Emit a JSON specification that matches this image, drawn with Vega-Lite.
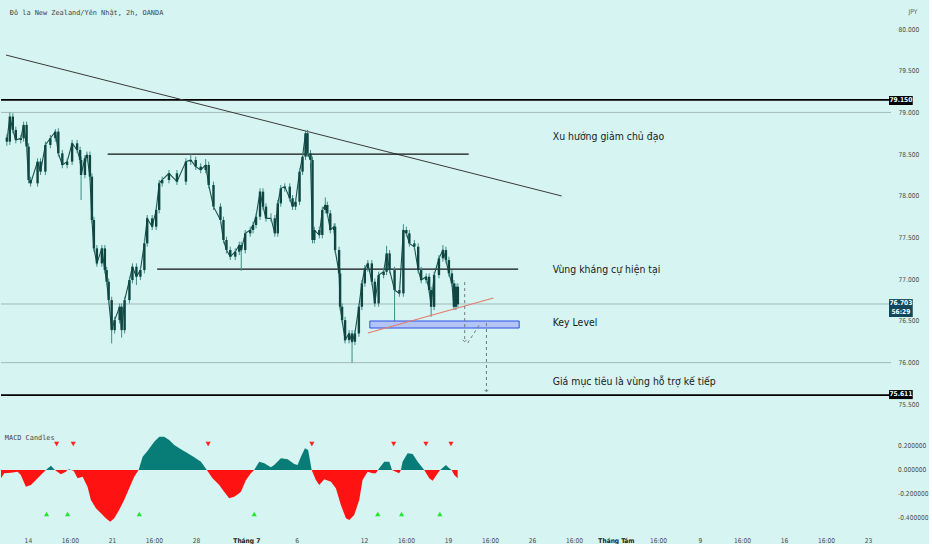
{
  "$schema": "https://vega.github.io/schema/vega-lite/v6.json",
  "background": "#d5f4f2",
  "padding": 0,
  "spacing": 2,
  "config": {
    "view": {"stroke": null},
    "axis": {
      "labelFont": "DejaVu Sans Condensed",
      "labelFontSize": 6.6,
      "labelColor": "#4a4a4a",
      "domain": false,
      "ticks": false,
      "grid": false,
      "labelOverlap": false,
      "labelBound": false
    }
  },
  "datasets": {
    "candles": [
      {"t": -1.55, "o": 78.70, "h": 78.74, "l": 78.60, "c": 78.65},
      {"t": -1.37, "o": 78.65, "h": 79.00, "l": 78.61, "c": 78.95},
      {"t": -1.19, "o": 78.95, "h": 78.99, "l": 78.75, "c": 78.79},
      {"t": -1.01, "o": 78.79, "h": 78.83, "l": 78.63, "c": 78.67},
      {"t": -0.71, "o": 78.67, "h": 78.73, "l": 78.63, "c": 78.69},
      {"t": -0.54, "o": 78.69, "h": 78.89, "l": 78.65, "c": 78.85},
      {"t": -0.36, "o": 78.85, "h": 78.89, "l": 78.55, "c": 78.59},
      {"t": -0.24, "o": 78.59, "h": 78.63, "l": 78.15, "c": 78.19},
      {"t": -0.12, "o": 78.19, "h": 78.23, "l": 78.11, "c": 78.15},
      {"t": 0.30, "o": 78.15, "h": 78.45, "l": 78.11, "c": 78.41},
      {"t": 0.48, "o": 78.41, "h": 78.45, "l": 78.25, "c": 78.29},
      {"t": 0.77, "o": 78.29, "h": 78.65, "l": 78.25, "c": 78.61},
      {"t": 1.07, "o": 78.61, "h": 78.73, "l": 78.57, "c": 78.69},
      {"t": 1.37, "o": 78.69, "h": 78.80, "l": 78.65, "c": 78.77},
      {"t": 1.55, "o": 78.77, "h": 78.81, "l": 78.47, "c": 78.51},
      {"t": 1.79, "o": 78.51, "h": 78.55, "l": 78.33, "c": 78.37},
      {"t": 2.08, "o": 78.37, "h": 78.45, "l": 78.33, "c": 78.41},
      {"t": 2.38, "o": 78.41, "h": 78.67, "l": 78.37, "c": 78.63},
      {"t": 2.68, "o": 78.63, "h": 78.67, "l": 78.51, "c": 78.55},
      {"t": 2.86, "o": 78.55, "h": 78.59, "l": 78.39, "c": 78.43},
      {"t": 2.92, "o": 78.43, "h": 78.47, "l": 77.95, "c": 78.25},
      {"t": 3.15, "o": 78.25, "h": 78.49, "l": 78.21, "c": 78.45},
      {"t": 3.27, "o": 78.45, "h": 78.53, "l": 78.41, "c": 78.49},
      {"t": 3.45, "o": 78.49, "h": 78.53, "l": 78.19, "c": 78.23},
      {"t": 3.57, "o": 78.23, "h": 78.27, "l": 77.67, "c": 77.71},
      {"t": 3.69, "o": 77.71, "h": 77.75, "l": 77.33, "c": 77.37},
      {"t": 3.87, "o": 77.37, "h": 77.41, "l": 77.15, "c": 77.19},
      {"t": 4.17, "o": 77.19, "h": 77.41, "l": 77.15, "c": 77.37},
      {"t": 4.35, "o": 77.37, "h": 77.41, "l": 77.07, "c": 77.11},
      {"t": 4.46, "o": 77.11, "h": 77.15, "l": 76.93, "c": 76.97},
      {"t": 4.58, "o": 76.97, "h": 77.01, "l": 76.71, "c": 76.75},
      {"t": 4.76, "o": 76.75, "h": 76.79, "l": 76.23, "c": 76.39},
      {"t": 4.94, "o": 76.39, "h": 76.55, "l": 76.35, "c": 76.51},
      {"t": 5.24, "o": 76.51, "h": 76.71, "l": 76.47, "c": 76.67},
      {"t": 5.36, "o": 76.67, "h": 76.71, "l": 76.30, "c": 76.39},
      {"t": 5.54, "o": 76.39, "h": 76.79, "l": 76.35, "c": 76.75},
      {"t": 5.83, "o": 76.75, "h": 77.03, "l": 76.71, "c": 76.99},
      {"t": 6.01, "o": 76.99, "h": 77.19, "l": 76.95, "c": 77.15},
      {"t": 6.25, "o": 77.15, "h": 77.19, "l": 76.93, "c": 77.03},
      {"t": 6.49, "o": 77.03, "h": 77.15, "l": 76.99, "c": 77.11},
      {"t": 6.73, "o": 77.11, "h": 77.47, "l": 77.07, "c": 77.43},
      {"t": 6.90, "o": 77.43, "h": 77.77, "l": 77.39, "c": 77.73},
      {"t": 7.20, "o": 77.73, "h": 77.77, "l": 77.59, "c": 77.63},
      {"t": 7.44, "o": 77.63, "h": 77.87, "l": 77.59, "c": 77.83},
      {"t": 7.62, "o": 77.83, "h": 78.19, "l": 77.79, "c": 78.15},
      {"t": 7.80, "o": 78.15, "h": 78.23, "l": 78.11, "c": 78.19},
      {"t": 8.21, "o": 78.19, "h": 78.31, "l": 78.15, "c": 78.27},
      {"t": 8.69, "o": 78.27, "h": 78.31, "l": 78.13, "c": 78.17},
      {"t": 9.23, "o": 78.17, "h": 78.45, "l": 78.13, "c": 78.41},
      {"t": 9.52, "o": 78.41, "h": 78.50, "l": 78.37, "c": 78.43},
      {"t": 9.82, "o": 78.43, "h": 78.47, "l": 78.31, "c": 78.35},
      {"t": 10.12, "o": 78.35, "h": 78.39, "l": 78.27, "c": 78.31},
      {"t": 10.42, "o": 78.31, "h": 78.44, "l": 78.27, "c": 78.37},
      {"t": 10.60, "o": 78.37, "h": 78.41, "l": 78.09, "c": 78.13},
      {"t": 10.89, "o": 78.13, "h": 78.17, "l": 77.83, "c": 77.87},
      {"t": 11.31, "o": 77.87, "h": 77.91, "l": 77.67, "c": 77.71},
      {"t": 11.49, "o": 77.71, "h": 77.75, "l": 77.43, "c": 77.47},
      {"t": 11.67, "o": 77.47, "h": 77.51, "l": 77.31, "c": 77.35},
      {"t": 11.90, "o": 77.35, "h": 77.39, "l": 77.23, "c": 77.27},
      {"t": 12.20, "o": 77.27, "h": 77.37, "l": 77.23, "c": 77.33},
      {"t": 12.44, "o": 77.33, "h": 77.45, "l": 77.29, "c": 77.41},
      {"t": 12.56, "o": 77.41, "h": 77.45, "l": 77.10, "c": 77.35},
      {"t": 12.80, "o": 77.35, "h": 77.59, "l": 77.31, "c": 77.55},
      {"t": 13.10, "o": 77.55, "h": 77.63, "l": 77.51, "c": 77.59},
      {"t": 13.27, "o": 77.59, "h": 77.69, "l": 77.55, "c": 77.65},
      {"t": 13.45, "o": 77.65, "h": 77.79, "l": 77.61, "c": 77.75},
      {"t": 13.69, "o": 77.75, "h": 78.09, "l": 77.71, "c": 78.05},
      {"t": 13.87, "o": 78.05, "h": 78.09, "l": 77.83, "c": 77.87},
      {"t": 14.05, "o": 77.87, "h": 77.91, "l": 77.69, "c": 77.73},
      {"t": 14.35, "o": 77.73, "h": 77.79, "l": 77.69, "c": 77.73},
      {"t": 14.58, "o": 77.73, "h": 77.77, "l": 77.51, "c": 77.55},
      {"t": 14.76, "o": 77.55, "h": 77.95, "l": 77.51, "c": 77.91},
      {"t": 14.94, "o": 77.91, "h": 78.13, "l": 77.87, "c": 78.09},
      {"t": 15.18, "o": 78.09, "h": 78.15, "l": 78.05, "c": 78.11},
      {"t": 15.48, "o": 78.11, "h": 78.15, "l": 77.93, "c": 77.97},
      {"t": 15.65, "o": 77.97, "h": 78.01, "l": 77.83, "c": 77.87},
      {"t": 15.83, "o": 77.87, "h": 77.97, "l": 77.83, "c": 77.93},
      {"t": 16.07, "o": 77.93, "h": 78.33, "l": 77.89, "c": 78.29},
      {"t": 16.25, "o": 78.29, "h": 78.51, "l": 78.25, "c": 78.47},
      {"t": 16.43, "o": 78.47, "h": 78.78, "l": 78.43, "c": 78.75},
      {"t": 16.55, "o": 78.75, "h": 78.79, "l": 78.47, "c": 78.51},
      {"t": 16.73, "o": 78.51, "h": 78.55, "l": 78.39, "c": 78.43},
      {"t": 16.85, "o": 78.43, "h": 78.47, "l": 77.43, "c": 77.47},
      {"t": 16.96, "o": 77.47, "h": 77.63, "l": 77.43, "c": 77.59},
      {"t": 17.26, "o": 77.59, "h": 77.63, "l": 77.49, "c": 77.53},
      {"t": 17.44, "o": 77.53, "h": 77.87, "l": 77.49, "c": 77.83},
      {"t": 17.62, "o": 77.83, "h": 77.98, "l": 77.79, "c": 77.89},
      {"t": 17.74, "o": 77.89, "h": 77.93, "l": 77.75, "c": 77.79},
      {"t": 17.92, "o": 77.79, "h": 77.83, "l": 77.55, "c": 77.59},
      {"t": 18.15, "o": 77.59, "h": 77.67, "l": 77.55, "c": 77.63},
      {"t": 18.21, "o": 77.63, "h": 77.67, "l": 77.31, "c": 77.35},
      {"t": 18.45, "o": 77.35, "h": 77.39, "l": 77.03, "c": 77.07},
      {"t": 18.51, "o": 77.07, "h": 77.11, "l": 76.63, "c": 76.67},
      {"t": 18.63, "o": 76.67, "h": 76.71, "l": 76.47, "c": 76.51},
      {"t": 18.81, "o": 76.51, "h": 76.55, "l": 76.23, "c": 76.27},
      {"t": 19.05, "o": 76.27, "h": 76.39, "l": 76.23, "c": 76.35},
      {"t": 19.23, "o": 76.35, "h": 76.39, "l": 76.00, "c": 76.25},
      {"t": 19.40, "o": 76.25, "h": 76.39, "l": 76.21, "c": 76.35},
      {"t": 19.64, "o": 76.35, "h": 76.71, "l": 76.31, "c": 76.67},
      {"t": 19.82, "o": 76.67, "h": 76.99, "l": 76.63, "c": 76.95},
      {"t": 20.00, "o": 76.95, "h": 77.17, "l": 76.91, "c": 77.13},
      {"t": 20.18, "o": 77.13, "h": 77.23, "l": 77.09, "c": 77.19},
      {"t": 20.42, "o": 77.19, "h": 77.23, "l": 76.93, "c": 76.97},
      {"t": 20.60, "o": 76.97, "h": 77.01, "l": 76.67, "c": 76.71},
      {"t": 20.83, "o": 76.71, "h": 77.09, "l": 76.67, "c": 77.05},
      {"t": 21.13, "o": 77.05, "h": 77.13, "l": 77.01, "c": 77.09},
      {"t": 21.31, "o": 77.09, "h": 77.40, "l": 77.05, "c": 77.31},
      {"t": 21.49, "o": 77.31, "h": 77.35, "l": 77.07, "c": 77.11},
      {"t": 21.79, "o": 77.11, "h": 77.15, "l": 76.47, "c": 76.87},
      {"t": 22.08, "o": 76.87, "h": 76.91, "l": 76.79, "c": 76.83},
      {"t": 22.32, "o": 76.83, "h": 77.66, "l": 76.79, "c": 77.59},
      {"t": 22.50, "o": 77.59, "h": 77.63, "l": 77.51, "c": 77.55},
      {"t": 22.68, "o": 77.55, "h": 77.59, "l": 77.39, "c": 77.43},
      {"t": 22.98, "o": 77.43, "h": 77.47, "l": 77.35, "c": 77.39},
      {"t": 23.21, "o": 77.39, "h": 77.43, "l": 77.07, "c": 77.11},
      {"t": 23.39, "o": 77.11, "h": 77.15, "l": 76.95, "c": 76.99},
      {"t": 23.69, "o": 76.99, "h": 77.07, "l": 76.95, "c": 77.03},
      {"t": 23.87, "o": 77.03, "h": 77.07, "l": 76.83, "c": 76.87},
      {"t": 23.99, "o": 76.87, "h": 76.91, "l": 76.55, "c": 76.67},
      {"t": 24.17, "o": 76.67, "h": 77.09, "l": 76.63, "c": 77.05},
      {"t": 24.46, "o": 77.05, "h": 77.29, "l": 77.01, "c": 77.25},
      {"t": 24.70, "o": 77.25, "h": 77.41, "l": 77.21, "c": 77.35},
      {"t": 24.88, "o": 77.35, "h": 77.39, "l": 77.19, "c": 77.23},
      {"t": 25.06, "o": 77.23, "h": 77.27, "l": 77.03, "c": 77.07},
      {"t": 25.24, "o": 77.07, "h": 77.11, "l": 76.91, "c": 76.95},
      {"t": 25.36, "o": 76.95, "h": 76.99, "l": 76.63, "c": 76.67},
      {"t": 25.48, "o": 76.67, "h": 76.95, "l": 76.63, "c": 76.91},
      {"t": 25.60, "o": 76.91, "h": 76.95, "l": 76.66, "c": 76.70}
    ],
    "macd": [
      {"t": -1.6, "m": -0.069}, {"t": -1.41, "m": -0.028}, {"t": -1.01, "m": -0.022},
      {"t": -0.61, "m": -0.014}, {"t": -0.42, "m": -0.042}, {"t": -0.12, "m": -0.139},
      {"t": 0.18, "m": -0.125}, {"t": 0.48, "m": -0.083}, {"t": 0.77, "m": -0.042},
      {"t": 1.07, "m": 0}, {"t": 1.37, "m": 0.036}, {"t": 1.61, "m": 0},
      {"t": 1.96, "m": -0.036}, {"t": 2.26, "m": -0.014}, {"t": 2.35, "m": 0},
      {"t": 2.46, "m": 0.006}, {"t": 2.56, "m": 0}, {"t": 2.72, "m": -0.006},
      {"t": 2.96, "m": -0.069}, {"t": 3.26, "m": -0.056}, {"t": 3.55, "m": -0.139},
      {"t": 3.75, "m": -0.25}, {"t": 4.05, "m": -0.319}, {"t": 4.35, "m": -0.361},
      {"t": 4.64, "m": -0.403}, {"t": 4.90, "m": -0.431}, {"t": 5.14, "m": -0.403},
      {"t": 5.43, "m": -0.333}, {"t": 5.73, "m": -0.25}, {"t": 6.03, "m": -0.153},
      {"t": 6.33, "m": -0.056}, {"t": 6.59, "m": 0}, {"t": 6.83, "m": 0.111},
      {"t": 7.13, "m": 0.161}, {"t": 7.52, "m": 0.236}, {"t": 7.82, "m": 0.278},
      {"t": 8.11, "m": 0.278}, {"t": 8.41, "m": 0.25}, {"t": 8.71, "m": 0.208},
      {"t": 9.11, "m": 0.172}, {"t": 9.51, "m": 0.139}, {"t": 9.90, "m": 0.106},
      {"t": 10.30, "m": 0.069}, {"t": 10.65, "m": 0}, {"t": 10.99, "m": -0.069},
      {"t": 11.39, "m": -0.125}, {"t": 11.68, "m": -0.181}, {"t": 11.98, "m": -0.236},
      {"t": 12.28, "m": -0.222}, {"t": 12.58, "m": -0.194}, {"t": 12.68, "m": -0.181},
      {"t": 12.98, "m": -0.083}, {"t": 13.27, "m": -0.028}, {"t": 13.47, "m": 0},
      {"t": 13.77, "m": 0.069}, {"t": 14.07, "m": 0.056}, {"t": 14.46, "m": 0.022},
      {"t": 14.66, "m": 0.042}, {"t": 15.06, "m": 0.097}, {"t": 15.46, "m": 0.089},
      {"t": 15.85, "m": 0.05}, {"t": 16.05, "m": 0.042}, {"t": 16.25, "m": 0.111},
      {"t": 16.49, "m": 0.181}, {"t": 16.68, "m": 0.167}, {"t": 16.89, "m": 0},
      {"t": 17.14, "m": -0.083}, {"t": 17.34, "m": -0.125}, {"t": 17.64, "m": -0.078},
      {"t": 18.04, "m": -0.097}, {"t": 18.33, "m": -0.153}, {"t": 18.63, "m": -0.292},
      {"t": 18.93, "m": -0.403}, {"t": 19.13, "m": -0.417}, {"t": 19.42, "m": -0.375},
      {"t": 19.72, "m": -0.25}, {"t": 19.92, "m": -0.083}, {"t": 20.22, "m": -0.014},
      {"t": 20.52, "m": -0.028}, {"t": 20.71, "m": -0.028}, {"t": 20.83, "m": 0},
      {"t": 20.91, "m": 0.014}, {"t": 21.21, "m": 0.069}, {"t": 21.51, "m": 0.069},
      {"t": 21.67, "m": 0}, {"t": 21.90, "m": -0.014}, {"t": 22.10, "m": -0.028},
      {"t": 22.20, "m": 0}, {"t": 22.30, "m": 0.069}, {"t": 22.60, "m": 0.139},
      {"t": 22.90, "m": 0.133}, {"t": 23.20, "m": 0.069}, {"t": 23.59, "m": 0},
      {"t": 23.89, "m": -0.069}, {"t": 24.09, "m": -0.089}, {"t": 24.39, "m": -0.028},
      {"t": 24.54, "m": 0}, {"t": 24.88, "m": 0.042}, {"t": 25.08, "m": 0.014},
      {"t": 25.22, "m": 0}, {"t": 25.38, "m": -0.042}, {"t": 25.58, "m": -0.069}
    ],
    "signals": [
      {"t": 1.71, "m": 0.217, "dir": "sell"}, {"t": 2.70, "m": 0.217, "dir": "sell"},
      {"t": 10.73, "m": 0.217, "dir": "sell"}, {"t": 16.90, "m": 0.217, "dir": "sell"},
      {"t": 21.77, "m": 0.217, "dir": "sell"}, {"t": 23.69, "m": 0.217, "dir": "sell"},
      {"t": 25.18, "m": 0.217, "dir": "sell"},
      {"t": 1.11, "m": -0.367, "dir": "buy"}, {"t": 2.36, "m": -0.367, "dir": "buy"},
      {"t": 6.63, "m": -0.367, "dir": "buy"}, {"t": 13.47, "m": -0.367, "dir": "buy"},
      {"t": 20.82, "m": -0.367, "dir": "buy"}, {"t": 22.24, "m": -0.367, "dir": "buy"},
      {"t": 24.52, "m": -0.367, "dir": "buy"}
    ]
  },
  "vconcat": [
    {
      "width": 890,
      "height": 408,
      "layer": [
        {
          "data": {"values": [{"p": 79.0}, {"p": 76.0}, {"p": 76.703}]},
          "mark": {"type": "rule", "color": "#a3b9b9", "strokeWidth": 1},
          "encoding": {
            "y": {
              "field": "p", "type": "quantitative",
              "scale": {"domain": [75.456, 80.348], "nice": false, "zero": false},
              "axis": {
                "orient": "right", "values": [75.5, 76, 76.5, 77, 77.5, 78, 78.5, 79, 79.5, 80],
                "format": ".3f", "labelPadding": 7, "title": "JPY", "titleAngle": 0,
                "titleFont": "DejaVu Sans Condensed", "titleFontSize": 6.6,
                "titleFontWeight": "normal", "titleColor": "#666666", "titleAlign": "left",
                "titleBaseline": "middle", "titleX": 17, "titleY": 11
              }
            }
          }
        },
        {
          "data": {"values": [{"p": 79.15}, {"p": 75.611}]},
          "mark": {"type": "rule", "color": "#000000", "strokeWidth": 1.8},
          "encoding": {"y": {"field": "p", "type": "quantitative"}}
        },
        {
          "data": {"values": [{"t1": -1.6, "p1": 79.688, "t2": 31.85, "p2": 77.998}]},
          "mark": {"type": "rule", "color": "#3a3a3a", "strokeWidth": 1},
          "encoding": {
            "x": {"field": "t1", "type": "quantitative", "scale": {"domain": [-1.6, 51.37], "nice": false, "zero": false}, "axis": null},
            "x2": {"field": "t2"},
            "y": {"field": "p1", "type": "quantitative"},
            "y2": {"field": "p2"}
          }
        },
        {
          "data": {"values": [
            {"t1": 4.52, "p1": 78.501, "t2": 26.25, "p2": 78.501},
            {"t1": 7.5, "p1": 77.122, "t2": 29.23, "p2": 77.122}
          ]},
          "mark": {"type": "rule", "color": "#111111", "strokeWidth": 1.3},
          "encoding": {
            "x": {"field": "t1", "type": "quantitative"},
            "x2": {"field": "t2"},
            "y": {"field": "p1", "type": "quantitative"},
            "y2": {"field": "p2"}
          }
        },
        {
          "data": {"name": "candles"},
          "mark": {"type": "line", "color": "#17524d", "strokeWidth": 1.1},
          "encoding": {
            "x": {"field": "t", "type": "quantitative"},
            "y": {"field": "c", "type": "quantitative"}
          }
        },
        {
          "data": {"name": "candles"},
          "mark": {"type": "rule", "color": "#3f8c86", "strokeWidth": 1},
          "encoding": {
            "x": {"field": "t", "type": "quantitative"},
            "y": {"field": "l", "type": "quantitative"},
            "y2": {"field": "h"}
          }
        },
        {
          "data": {"name": "candles"},
          "mark": {"type": "bar", "color": "#0f4642", "size": 2.4},
          "encoding": {
            "x": {"field": "t", "type": "quantitative"},
            "y": {"field": "o", "type": "quantitative"},
            "y2": {"field": "c"}
          }
        },
        {
          "data": {"values": [{"t1": 20.30, "p1": 76.499, "t2": 29.29, "p2": 76.415}]},
          "mark": {"type": "rect", "fill": "#b3c5f4", "stroke": "#2f4fe6", "strokeWidth": 1},
          "encoding": {
            "x": {"field": "t1", "type": "quantitative"},
            "x2": {"field": "t2"},
            "y": {"field": "p1", "type": "quantitative"},
            "y2": {"field": "p2"}
          }
        },
        {
          "data": {"values": [{"t1": 20.18, "p1": 76.355, "t2": 27.74, "p2": 76.775}]},
          "mark": {"type": "rule", "color": "#e57b6c", "strokeWidth": 1.1},
          "encoding": {
            "x": {"field": "t1", "type": "quantitative"},
            "x2": {"field": "t2"},
            "y": {"field": "p1", "type": "quantitative"},
            "y2": {"field": "p2"}
          }
        },
        {
          "data": {"values": [
            {"t1": 26.01, "p1": 76.966, "t2": 26.01, "p2": 76.26},
            {"t1": 26.19, "p1": 76.235, "t2": 26.96, "p2": 76.475},
            {"t1": 27.32, "p1": 76.475, "t2": 27.32, "p2": 75.66}
          ]},
          "mark": {"type": "rule", "color": "#6f7b7b", "strokeWidth": 1, "strokeDash": [3, 3]},
          "encoding": {
            "x": {"field": "t1", "type": "quantitative"},
            "x2": {"field": "t2"},
            "y": {"field": "p1", "type": "quantitative"},
            "y2": {"field": "p2"}
          }
        },
        {
          "data": {"values": [{"t": 26.01, "p": 76.25}, {"t": 27.32, "p": 75.65}]},
          "mark": {"type": "point", "shape": "M -1 -1 L 0 0 L 1 -1", "filled": false, "stroke": "#6f7b7b", "strokeWidth": 1, "size": 14, "opacity": 1},
          "encoding": {
            "x": {"field": "t", "type": "quantitative"},
            "y": {"field": "p", "type": "quantitative"}
          }
        },
        {
          "data": {"values": [
            {"t": 31.31, "p": 78.705, "note": "Xu hướng giảm chủ đạo"},
            {"t": 31.31, "p": 77.11, "note": "Vùng kháng cự hiện tại"},
            {"t": 31.31, "p": 76.475, "note": "Key Level"},
            {"t": 31.31, "p": 75.767, "note": "Giá mục tiêu là vùng hỗ trợ kế tiếp"}
          ]},
          "mark": {"type": "text", "align": "left", "baseline": "middle", "font": "DejaVu Sans Condensed", "fontSize": 10.4, "color": "#1a1a1a"},
          "encoding": {
            "x": {"field": "t", "type": "quantitative"},
            "y": {"field": "p", "type": "quantitative"},
            "text": {"field": "note"}
          }
        },
        {
          "data": {"values": [{"t": -1.37, "p": 80.192, "note": "Đô la New Zealand/Yên Nhật, 2h, OANDA"}]},
          "mark": {"type": "text", "align": "left", "baseline": "middle", "font": "DejaVu Sans Mono", "fontSize": 6.9, "color": "#444444"},
          "encoding": {
            "x": {"field": "t", "type": "quantitative"},
            "y": {"field": "p", "type": "quantitative"},
            "text": {"field": "note"}
          }
        },
        {
          "data": {"values": [
            {"top": 79.197, "bot": 79.089, "label": "79.150", "box": "level"},
            {"top": 75.671, "bot": 75.563, "label": "75.611", "box": "level"},
            {"top": 76.762, "bot": 76.547, "label": "76.703\n56:29", "box": "last"}
          ]},
          "layer": [
            {
              "mark": {"type": "rect"},
              "encoding": {
                "x": {"datum": 51.55, "type": "quantitative"},
                "x2": {"datum": 52.98},
                "y": {"field": "top", "type": "quantitative"},
                "y2": {"field": "bot"},
                "fill": {"condition": {"test": "datum.box == 'last'", "value": "#13475a"}, "value": "#000000"}
              }
            },
            {
              "mark": {"type": "text", "align": "center", "baseline": "top", "dy": 1.2, "lineBreak": "\n", "lineHeight": 8.5, "font": "DejaVu Sans Condensed", "fontSize": 6.6, "fontWeight": "bold", "color": "#ffffff"},
              "encoding": {
                "x": {"datum": 52.265, "type": "quantitative"},
                "y": {"field": "top", "type": "quantitative"},
                "text": {"field": "label"}
              }
            }
          ]
        }
      ]
    },
    {
      "width": 890,
      "height": 120,
      "layer": [
        {
          "data": {"name": "macd"},
          "transform": [{"filter": "datum.m >= 0"}],
          "mark": {"type": "area", "color": "#087d78", "opacity": 1},
          "encoding": {
            "x": {
              "field": "t", "type": "quantitative",
              "scale": {"domain": [-1.6, 51.37], "nice": false, "zero": false},
              "axis": {
                "values": [0, 2.5, 5, 7.5, 10, 13, 16, 20, 22.5, 25, 27.5, 30, 32.5, 35, 37.5, 40, 42.5, 45, 47.5, 50],
                "labelExpr": "['14','16:00','21','16:00','28','Tháng 7','6','12','16:00','19','16:00','26','16:00','Tháng Tám','16:00','9','16:00','16','16:00','23'][indexof([0,2.5,5,7.5,10,13,16,20,22.5,25,27.5,30,32.5,35,37.5,40,42.5,45,47.5,50], datum.value)]",
                "labelFontWeight": {"condition": {"test": "datum.value == 13 || datum.value == 35", "value": "bold"}, "value": "normal"},
                "labelColor": {"condition": {"test": "datum.value == 13 || datum.value == 35", "value": "#222222"}, "value": "#4a4a4a"},
                "labelPadding": 7,
                "title": null
              }
            },
            "y": {
              "field": "m", "type": "quantitative",
              "scale": {"domain": [-0.5, 0.5], "nice": false, "zero": false},
              "axis": null
            },
            "y2": {"datum": 0}
          }
        },
        {
          "data": {"name": "macd"},
          "transform": [{"filter": "datum.m <= 0"}],
          "mark": {"type": "area", "color": "#ff1212", "opacity": 1},
          "encoding": {
            "x": {"field": "t", "type": "quantitative"},
            "y": {"field": "m", "type": "quantitative", "axis": null},
            "y2": {"datum": 0}
          }
        },
        {
          "data": {"name": "signals"},
          "transform": [{"filter": "datum.dir == 'sell'"}],
          "mark": {"type": "point", "shape": "triangle-down", "filled": true, "color": "#ff2020", "size": 26, "opacity": 1},
          "encoding": {
            "x": {"field": "t", "type": "quantitative"},
            "y": {"field": "m", "type": "quantitative", "axis": null}
          }
        },
        {
          "data": {"name": "signals"},
          "transform": [{"filter": "datum.dir == 'buy'"}],
          "mark": {"type": "point", "shape": "triangle-up", "filled": true, "color": "#22e62e", "size": 26, "opacity": 1},
          "encoding": {
            "x": {"field": "t", "type": "quantitative"},
            "y": {"field": "m", "type": "quantitative", "axis": null}
          }
        },
        {
          "data": {"values": [{"t": -1.37, "m": 0.267, "note": "MACD Candles"}]},
          "mark": {"type": "text", "align": "left", "baseline": "middle", "font": "DejaVu Sans Mono", "fontSize": 6.9, "color": "#444444"},
          "encoding": {
            "x": {"field": "t", "type": "quantitative"},
            "y": {"field": "m", "type": "quantitative", "axis": null},
            "text": {"field": "note"}
          }
        },
        {
          "data": {"values": [
            {"m": 0.2, "label": "0.200000"},
            {"m": 0, "label": "0.000000"},
            {"m": -0.2, "label": "-0.200000"},
            {"m": -0.4, "label": "-0.400000"}
          ]},
          "mark": {"type": "text", "align": "left", "baseline": "middle", "font": "DejaVu Sans Condensed", "fontSize": 6.6, "color": "#4a4a4a"},
          "encoding": {
            "x": {"datum": 51.79, "type": "quantitative"},
            "y": {"field": "m", "type": "quantitative", "axis": null},
            "text": {"field": "label"}
          }
        }
      ]
    }
  ]
}
